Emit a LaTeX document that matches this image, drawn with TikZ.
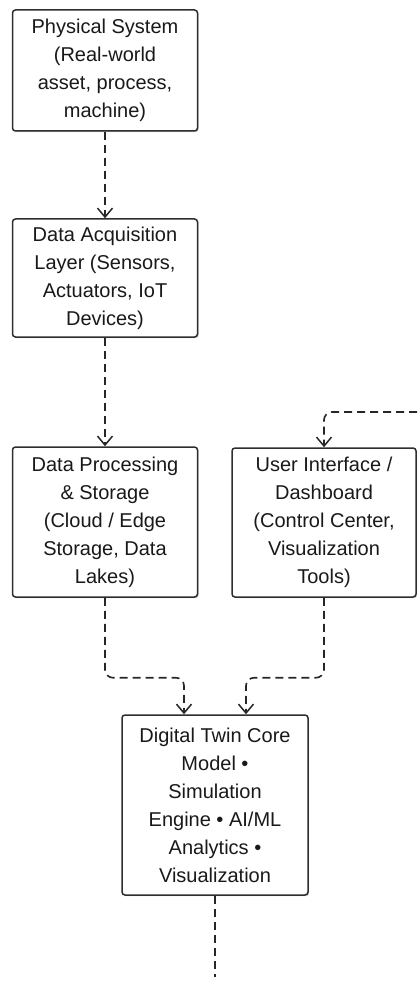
\documentclass[tikz,border=0pt]{standalone}
\usepackage{fontspec}
\setmainfont{Liberation Sans}
\usetikzlibrary{arrows.meta,shadows,calc}
\begin{document}
\begin{tikzpicture}[x=1pt,y=-1pt,
  box/.style={draw=black!82, line width=1.5pt, rounded corners=3pt, fill=white,
    align=center, inner sep=0pt, text=black!90,
    font=\fontsize{20}{28}\selectfont,
    drop shadow={shadow xshift=1.2pt, shadow yshift=-1.2pt, opacity=0.18, fill=black}},
  conn/.style={draw=black!85, line width=1.6pt, dash pattern=on 8pt off 5pt,
    rounded corners=8pt,
    -{Straight Barb[length=9pt,width=15pt,line width=1.5pt]}},
  plain/.style={draw=black!85, line width=1.6pt, dash pattern=on 8pt off 5pt}]
\useasboundingbox (0,0) rectangle (419,981);
\node[box, minimum width=185pt, minimum height=121pt] (b1) at (105,70.5)
  {Physical System\\(Real-world\\asset, process,\\machine)};
\node[box, minimum width=185pt, minimum height=118pt] (b2) at (105,278)
  {Data Acquisition\\Layer (Sensors,\\Actuators, IoT\\Devices)};
\node[box, minimum width=185pt, minimum height=150pt] (b3) at (105,522)
  {Data Processing\\\& Storage\\(Cloud / Edge\\Storage, Data\\Lakes)};
\node[box, minimum width=184pt, minimum height=149pt] (b4) at (324,522.5)
  {User Interface /\\Dashboard\\(Control Center,\\Visualization\\Tools)};
\node[box, minimum width=186pt, minimum height=180pt] (b5) at (215,805)
  {Digital Twin Core\\Model •\\Simulation\\Engine • AI/ML\\Analytics •\\Visualization};
\coordinate (in4) at (430,412);
\coordinate (out5) at (215,977);
\draw[conn] (b1.south) -- (b2.north);
\draw[conn] (b2.south) -- (b3.north);
\draw[conn] (b3.south) -- ++(0,80) -| ($(b5.north)+(-31,0)$);
\draw[conn] (b4.south) -- ++(0,80) -| ($(b5.north)+(31,0)$);
\draw[conn] (in4) -| (b4.north);
\draw[plain] (b5.south) -- (out5);
\end{tikzpicture}
\end{document}
